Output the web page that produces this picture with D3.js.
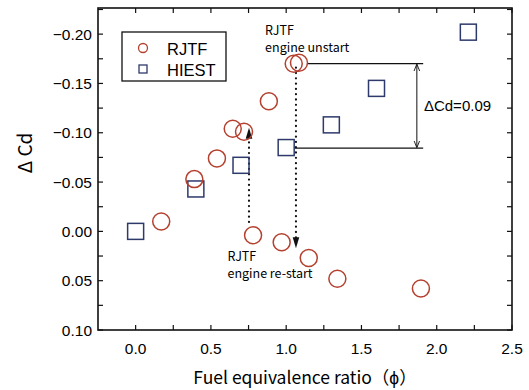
<!DOCTYPE html>
<html>
<head>
<meta charset="utf-8">
<script src="https://cdn.jsdelivr.net/npm/d3@7"></script>
<style>
  html, body { margin: 0; padding: 0; background: #fff; }
  svg { display: block; }
</style>
</head>
<body>
<svg id="chart" width="529" height="390"></svg>
<script>
// RJTF measurements (circles)
const rjtfPhi = [0.17, 0.39, 0.54, 0.645, 0.72, 0.885, 1.05, 1.085, 0.78, 0.97, 1.15, 1.34, 1.895];
const rjtfDcd = [-0.010, -0.053, -0.074, -0.104, -0.101, -0.132, -0.170, -0.171, 0.004, 0.011, 0.027, 0.048, 0.058];

// HIEST measurements (squares)
const hiestPhi = [0.0, 0.40, 0.70, 1.0, 1.30, 1.60, 2.21];
const hiestDcd = [0.0, -0.043, -0.067, -0.085, -0.108, -0.145, -0.202];

const xTicks = [0.0, 0.5, 1.0, 1.5, 2.0, 2.5];
const yTicks = [-0.20, -0.15, -0.10, -0.05, 0.00, 0.05, 0.10];

const width = 529;
const height = 390;
const margin = { top: 8, right: 17, bottom: 60, left: 98 };
const circleColor = '#b4402f';
const squareColor = '#2e3a6c';
const labelFont = 'Liberation Sans, Arial, sans-serif';
const jpFont = '"Noto Sans CJK JP", sans-serif';

const svg = d3.select('#chart');

const x = d3.scaleLinear().domain([-0.25, 2.5]).range([margin.left, width - margin.right]);
const y = d3.scaleLinear().domain([-0.2265, 0.10]).range([margin.top, height - margin.bottom]);

const xMinor = d3.range(0, 2.51, 0.25);
const yMinor = d3.range(-0.225, 0.1001, 0.025);

// ticks, all pointing inward
const tickLen = 5;
const tickG = svg.append('g').attr('stroke', '#111').attr('stroke-width', 1.2);
xMinor.forEach((v) => {
  tickG.append('line').attr('x1', x(v)).attr('x2', x(v))
    .attr('y1', y.range()[1]).attr('y2', y.range()[1] - tickLen);
  tickG.append('line').attr('x1', x(v)).attr('x2', x(v))
    .attr('y1', y.range()[0]).attr('y2', y.range()[0] + tickLen);
});
yMinor.forEach((v) => {
  tickG.append('line').attr('x1', x.range()[0]).attr('x2', x.range()[0] + tickLen)
    .attr('y1', y(v)).attr('y2', y(v));
  tickG.append('line').attr('x1', x.range()[1]).attr('x2', x.range()[1] - tickLen)
    .attr('y1', y(v)).attr('y2', y(v));
});

// frame
svg.append('rect')
  .attr('x', x.range()[0]).attr('y', y.range()[0])
  .attr('width', x.range()[1] - x.range()[0])
  .attr('height', y.range()[1] - y.range()[0])
  .attr('fill', 'none').attr('stroke', '#111').attr('stroke-width', 1.6);

// tick labels
svg.append('g').selectAll('text').data(xTicks).join('text')
  .attr('x', (d) => x(d)).attr('y', y.range()[1] + 24)
  .attr('text-anchor', 'middle')
  .attr('font-family', labelFont).attr('font-size', 15.5).attr('fill', '#000')
  .text((d) => d3.format('.1f')(d));

svg.append('g').selectAll('text').data(yTicks).join('text')
  .attr('x', x.range()[0] - 6).attr('y', (d) => y(d) + 5.5)
  .attr('text-anchor', 'end')
  .attr('font-family', labelFont).attr('font-size', 15.5).attr('fill', '#000')
  .text((d) => d3.format('.2f')(d).replace('-', '\u2212'));

// axis titles
svg.append('text')
  .attr('x', 305).attr('y', 384)
  .attr('text-anchor', 'middle')
  .attr('font-family', jpFont).attr('font-size', 17.5).attr('fill', '#000')
  .text('Fuel equivalence ratio（\u03d5）');

svg.append('text')
  .attr('transform', `translate(32,${(y.range()[0] + y.range()[1]) / 2 - 16}) rotate(-90)`)
  .attr('text-anchor', 'middle')
  .attr('font-family', jpFont).attr('font-size', 19).attr('fill', '#000')
  .text('\u0394 Cd');

// annotations
const ann = svg.append('g').attr('stroke', '#111');
const defs = svg.append('defs');
defs.append('marker').attr('id', 'tip').attr('viewBox', '0 0 10 10')
  .attr('refX', 9).attr('refY', 5).attr('markerWidth', 7).attr('markerHeight', 7)
  .attr('orient', 'auto-start-reverse')
  .append('path').attr('d', 'M0,1 L10,5 L0,9').attr('fill', 'none').attr('stroke', '#111').attr('stroke-width', 1.3);
defs.append('marker').attr('id', 'dot').attr('viewBox', '0 0 10 10')
  .attr('refX', 9).attr('refY', 5).attr('markerWidth', 5).attr('markerHeight', 5)
  .attr('orient', 'auto')
  .append('path').attr('d', 'M0,2 L10,5 L0,8 Z').attr('fill', '#111');

const unstartPhi = 1.085;
const bracketEnd = 1.91;
const arrowPhi = 1.868;
const upperDcd = -0.170;
const lowerDcd = -0.0845;

ann.append('line').attr('x1', x(unstartPhi) + 8).attr('x2', x(bracketEnd))
  .attr('y1', y(upperDcd)).attr('y2', y(upperDcd)).attr('stroke-width', 1.3);
ann.append('line').attr('x1', x(1.0) + 8).attr('x2', x(bracketEnd))
  .attr('y1', y(lowerDcd)).attr('y2', y(lowerDcd)).attr('stroke-width', 1.3);
ann.append('line').attr('x1', x(arrowPhi)).attr('x2', x(arrowPhi))
  .attr('y1', y(upperDcd) + 1).attr('y2', y(lowerDcd) - 1).attr('stroke-width', 1)
  .attr('marker-start', 'url(#tip)').attr('marker-end', 'url(#tip)');

// dotted transition lines
ann.append('line').attr('x1', x(1.065)).attr('x2', x(1.065))
  .attr('y1', y(-0.166)).attr('y2', y(0.016))
  .attr('stroke-width', 2.2).attr('stroke-dasharray', '0.1 5.2').attr('stroke-linecap', 'round')
  .attr('marker-end', 'url(#dot)');
ann.append('line').attr('x1', x(0.753)).attr('x2', x(0.753))
  .attr('y1', y(-0.0095)).attr('y2', y(-0.104))
  .attr('stroke-width', 2.2).attr('stroke-dasharray', '0.1 5.2').attr('stroke-linecap', 'round')
  .attr('marker-end', 'url(#dot)');

const annText = [
  { t: 'RJTF', phi: 0.86, d: -0.199 },
  { t: 'engine unstart', phi: 0.86, d: -0.1815 },
  { t: 'RJTF', phi: 0.61, d: 0.030 },
  { t: 'engine re-start', phi: 0.61, d: 0.0475 },
];
svg.append('g').selectAll('text').data(annText).join('text')
  .attr('x', (d) => x(d.phi)).attr('y', (d) => y(d.d))
  .attr('font-family', jpFont).attr('font-size', 12.5).attr('fill', '#000')
  .text((d) => d.t);

svg.append('text')
  .attr('x', x(1.915)).attr('y', y((upperDcd + lowerDcd) / 2) + 5)
  .attr('font-family', labelFont).attr('font-size', 15).attr('fill', '#000')
  .text('\u0394Cd=0.09');

// markers
const rjtf = rjtfPhi.map((p, i) => ({ phi: p, dcd: rjtfDcd[i] }));
const hiest = hiestPhi.map((p, i) => ({ phi: p, dcd: hiestDcd[i] }));

svg.append('g').selectAll('rect').data(hiest).join('rect')
  .attr('x', (d) => x(d.phi) - 8).attr('y', (d) => y(d.dcd) - 8)
  .attr('width', 16).attr('height', 16)
  .attr('fill', 'none').attr('stroke', squareColor).attr('stroke-width', 1.5);

svg.append('g').selectAll('circle').data(rjtf).join('circle')
  .attr('cx', (d) => x(d.phi)).attr('cy', (d) => y(d.dcd)).attr('r', 8.5)
  .attr('fill', 'none').attr('stroke', circleColor).attr('stroke-width', 1.5);

// legend
const legend = svg.append('g');
legend.append('rect').attr('x', 122).attr('y', 32).attr('width', 104).attr('height', 49)
  .attr('fill', '#fff').attr('stroke', '#111').attr('stroke-width', 1.3);
legend.append('circle').attr('cx', 143).attr('cy', 48).attr('r', 4.5)
  .attr('fill', 'none').attr('stroke', circleColor).attr('stroke-width', 1.3);
legend.append('rect').attr('x', 139).attr('y', 65).attr('width', 8).attr('height', 8)
  .attr('fill', 'none').attr('stroke', squareColor).attr('stroke-width', 1.3);
legend.append('text').attr('x', 167).attr('y', 55)
  .attr('font-family', labelFont).attr('font-size', 16.5).attr('fill', '#000').text('RJTF');
legend.append('text').attr('x', 167).attr('y', 76)
  .attr('font-family', labelFont).attr('font-size', 16.5).attr('fill', '#000').text('HIEST');
</script>
</body>
</html>
